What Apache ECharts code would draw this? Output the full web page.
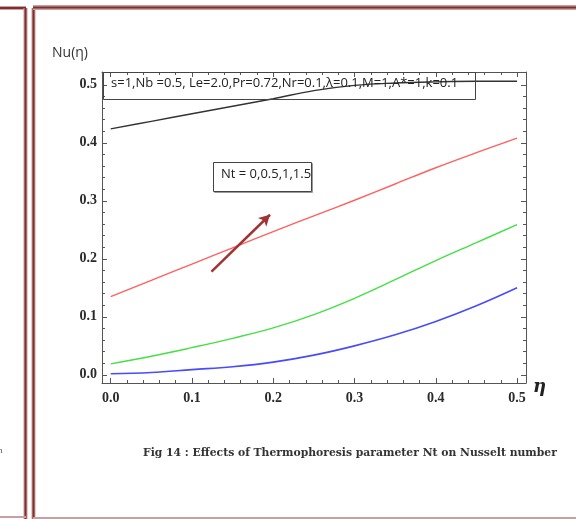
<!DOCTYPE html>
<html>
<head>
<meta charset="utf-8">
<script src="https://cdn.jsdelivr.net/npm/echarts@6/dist/echarts.min.js"></script>
<style>html,body{margin:0;padding:0;background:#fff;}#c{width:576px;height:519px;}</style>
</head>
<body>
<div id="c"></div>
<script>
var eta = [0, 0.05, 0.1, 0.15, 0.2, 0.25, 0.3, 0.35, 0.4, 0.45, 0.5];
var nt0 = [0.424, 0.437, 0.450, 0.463, 0.476, 0.490, 0.499, 0.503, 0.505, 0.506, 0.506];
var nt05 = [0.135, 0.163, 0.191, 0.219, 0.247, 0.274, 0.301, 0.329, 0.357, 0.383, 0.408];
var nt1 = [0.019, 0.032, 0.047, 0.063, 0.081, 0.104, 0.132, 0.164, 0.197, 0.228, 0.259];
var nt15 = [0.002, 0.004, 0.009, 0.014, 0.022, 0.034, 0.050, 0.069, 0.092, 0.119, 0.150];
var xTicks = [0, 0.1, 0.2, 0.3, 0.4, 0.5];
var yTicks = [0, 0.1, 0.2, 0.3, 0.4, 0.5];
var arrowFrom = [0.124, 0.178];
var arrowTo = [0.196, 0.276];
var paramText = 's=1,Nb =0.5, Le=2.0,Pr=0.72,Nr=0.1,λ=0.1,M=1,A*=1,k=0.1';
var ntText = 'Nt = 0,0.5,1,1.5';
var caption = 'Fig 14 : Effects of Thermophoresis parameter Nt on Nusselt number';

var X0 = -0.0107, X1 = 0.511, Y0 = -0.014, Y1 = 0.522;
function minors(a, b, step) { var r = []; for (var v = a; v <= b + 1e-9; v += step) r.push(+v.toFixed(3)); return r; }
var xMinor = minors(0, 0.5, 0.02);
var yMinor = minors(0, 0.5, 0.02);

function pair(xs, ys) { return xs.map(function (x, i) { return [x, ys[i]]; }); }

var lblStyle = { fontFamily: 'Liberation Serif', fontWeight: 'bold', fontSize: 14, color: '#2a2a2a' };
function xAx(pos, vals, len, withLabel, line) {
  return {
    type: 'value', position: pos, min: X0, max: X1,
    axisLine: { show: line, onZero: false, lineStyle: { color: '#555', width: 1 } },
    axisTick: { show: true, inside: true, length: len, customValues: vals, lineStyle: { color: '#555' } },
    axisLabel: withLabel ? Object.assign({ show: true, customValues: vals, margin: 8, formatter: function (v) { return v.toFixed(1); } }, lblStyle) : { show: false },
    splitLine: { show: false }
  };
}
function yAx(pos, vals, len, withLabel, line) {
  return {
    type: 'value', position: pos, min: Y0, max: Y1,
    axisLine: { show: line, onZero: false, lineStyle: { color: '#555', width: 1 } },
    axisTick: { show: true, inside: true, length: len, customValues: vals, lineStyle: { color: '#555' } },
    axisLabel: withLabel ? Object.assign({ show: true, customValues: vals, margin: 5, formatter: function (v) { return v.toFixed(1); } }, lblStyle) : { show: false },
    splitLine: { show: false }
  };
}

var chart = echarts.init(document.getElementById('c'), null, { renderer: 'canvas' });
var lineCommon = { type: 'line', smooth: 0.4, showSymbol: false, symbol: 'none', xAxisIndex: 0, yAxisIndex: 0 };

var border = '#7f2f2f', borderSoft = '#c9a0a0';
chart.setOption({
  animation: false,
  backgroundColor: '#fff',
  grid: { left: 102, right: 50, top: 72, bottom: 136 },
  xAxis: [
    xAx('bottom', xTicks, 5, true, true),
    xAx('bottom', xMinor, 3, false, false),
    xAx('top', xTicks, 5, false, true),
    xAx('top', xMinor, 3, false, false)
  ],
  yAxis: [
    yAx('left', yTicks, 5, true, true),
    yAx('left', yMinor, 3, false, false),
    yAx('right', yTicks, 5, false, true),
    yAx('right', yMinor, 3, false, false)
  ],
  series: [
    Object.assign({}, lineCommon, { name: 'Nt=0', data: pair(eta, nt0), lineStyle: { color: '#333', width: 1.4 } }),
    Object.assign({}, lineCommon, { name: 'Nt=0.5', data: pair(eta, nt05), lineStyle: { color: '#ff6060', width: 1.4 } }),
    Object.assign({}, lineCommon, { name: 'Nt=1', data: pair(eta, nt1), lineStyle: { color: '#44e044', width: 1.4 } }),
    Object.assign({}, lineCommon, { name: 'Nt=1.5', data: pair(eta, nt15), lineStyle: { color: '#4a4aff', width: 1.6 },
      markLine: { silent: true, symbol: ['none', 'arrow'], symbolSize: [9, 11], label: { show: false },
        lineStyle: { color: '#a33232', width: 2.5, type: 'solid' },
        data: [[{ coord: arrowFrom }, { coord: arrowTo }]] } })
  ],
  graphic: [
    // page borders
    { type: 'line', shape: { x1: 0, y1: 8, x2: 26, y2: 8 }, style: { stroke: borderSoft, lineWidth: 4 } },
    { type: 'line', shape: { x1: 0, y1: 8, x2: 26, y2: 8 }, style: { stroke: border, lineWidth: 2 } },
    { type: 'line', shape: { x1: 25.5, y1: 8, x2: 25.5, y2: 519 }, style: { stroke: borderSoft, lineWidth: 4 } },
    { type: 'line', shape: { x1: 25.5, y1: 8, x2: 25.5, y2: 519 }, style: { stroke: border, lineWidth: 2 } },
    { type: 'line', shape: { x1: 0, y1: 517, x2: 26, y2: 517 }, style: { stroke: borderSoft, lineWidth: 2 } },
    { type: 'line', shape: { x1: 33.5, y1: 8, x2: 33.5, y2: 519 }, style: { stroke: borderSoft, lineWidth: 4 } },
    { type: 'line', shape: { x1: 33.5, y1: 8, x2: 33.5, y2: 519 }, style: { stroke: border, lineWidth: 2 } },
    { type: 'line', shape: { x1: 33, y1: 7.5, x2: 576, y2: 7.5 }, style: { stroke: borderSoft, lineWidth: 5 } },
    { type: 'line', shape: { x1: 33, y1: 7.5, x2: 576, y2: 7.5 }, style: { stroke: border, lineWidth: 2 } },
    { type: 'line', shape: { x1: 33, y1: 518, x2: 576, y2: 518 }, style: { stroke: borderSoft, lineWidth: 2 } },
    { type: 'text', left: -2, top: 446, style: { text: 'n', font: '9px Liberation Serif', fill: '#555' } },
    // axis titles
    { type: 'text', left: 52, top: 46, style: { text: 'Nu(η)', font: '14px Open Sans', fill: '#333' } },
    { type: 'text', left: 533, top: 378, style: { text: 'η', font: 'italic bold 18px DejaVu Serif', fill: '#222' } },
    // parameter box
    { type: 'rect', z: 10, shape: { x: 103.5, y: 72.5, width: 372, height: 27 }, style: { fill: 'transparent', stroke: '#444', lineWidth: 1 } },
    { type: 'text', z: 10, left: 111, top: 77, style: { text: paramText, font: '13px Open Sans', fill: '#222' } },
    // Nt box
    { type: 'rect', z: 10, shape: { x: 214.5, y: 163.5, width: 98, height: 29 }, style: { fill: 'transparent', stroke: '#999', lineWidth: 1 } },
    { type: 'rect', z: 10, shape: { x: 213.5, y: 162.5, width: 98, height: 29 }, style: { fill: '#fff', stroke: '#444', lineWidth: 1 } },
    { type: 'text', z: 11, left: 221, top: 168, style: { text: ntText, font: '13px Open Sans', fill: '#222' } },
    // caption
    { type: 'text', left: 143, top: 448, style: { text: caption, font: 'bold 10.8px DejaVu Serif', fill: '#333' } }
  ]
});
</script>
</body>
</html>
